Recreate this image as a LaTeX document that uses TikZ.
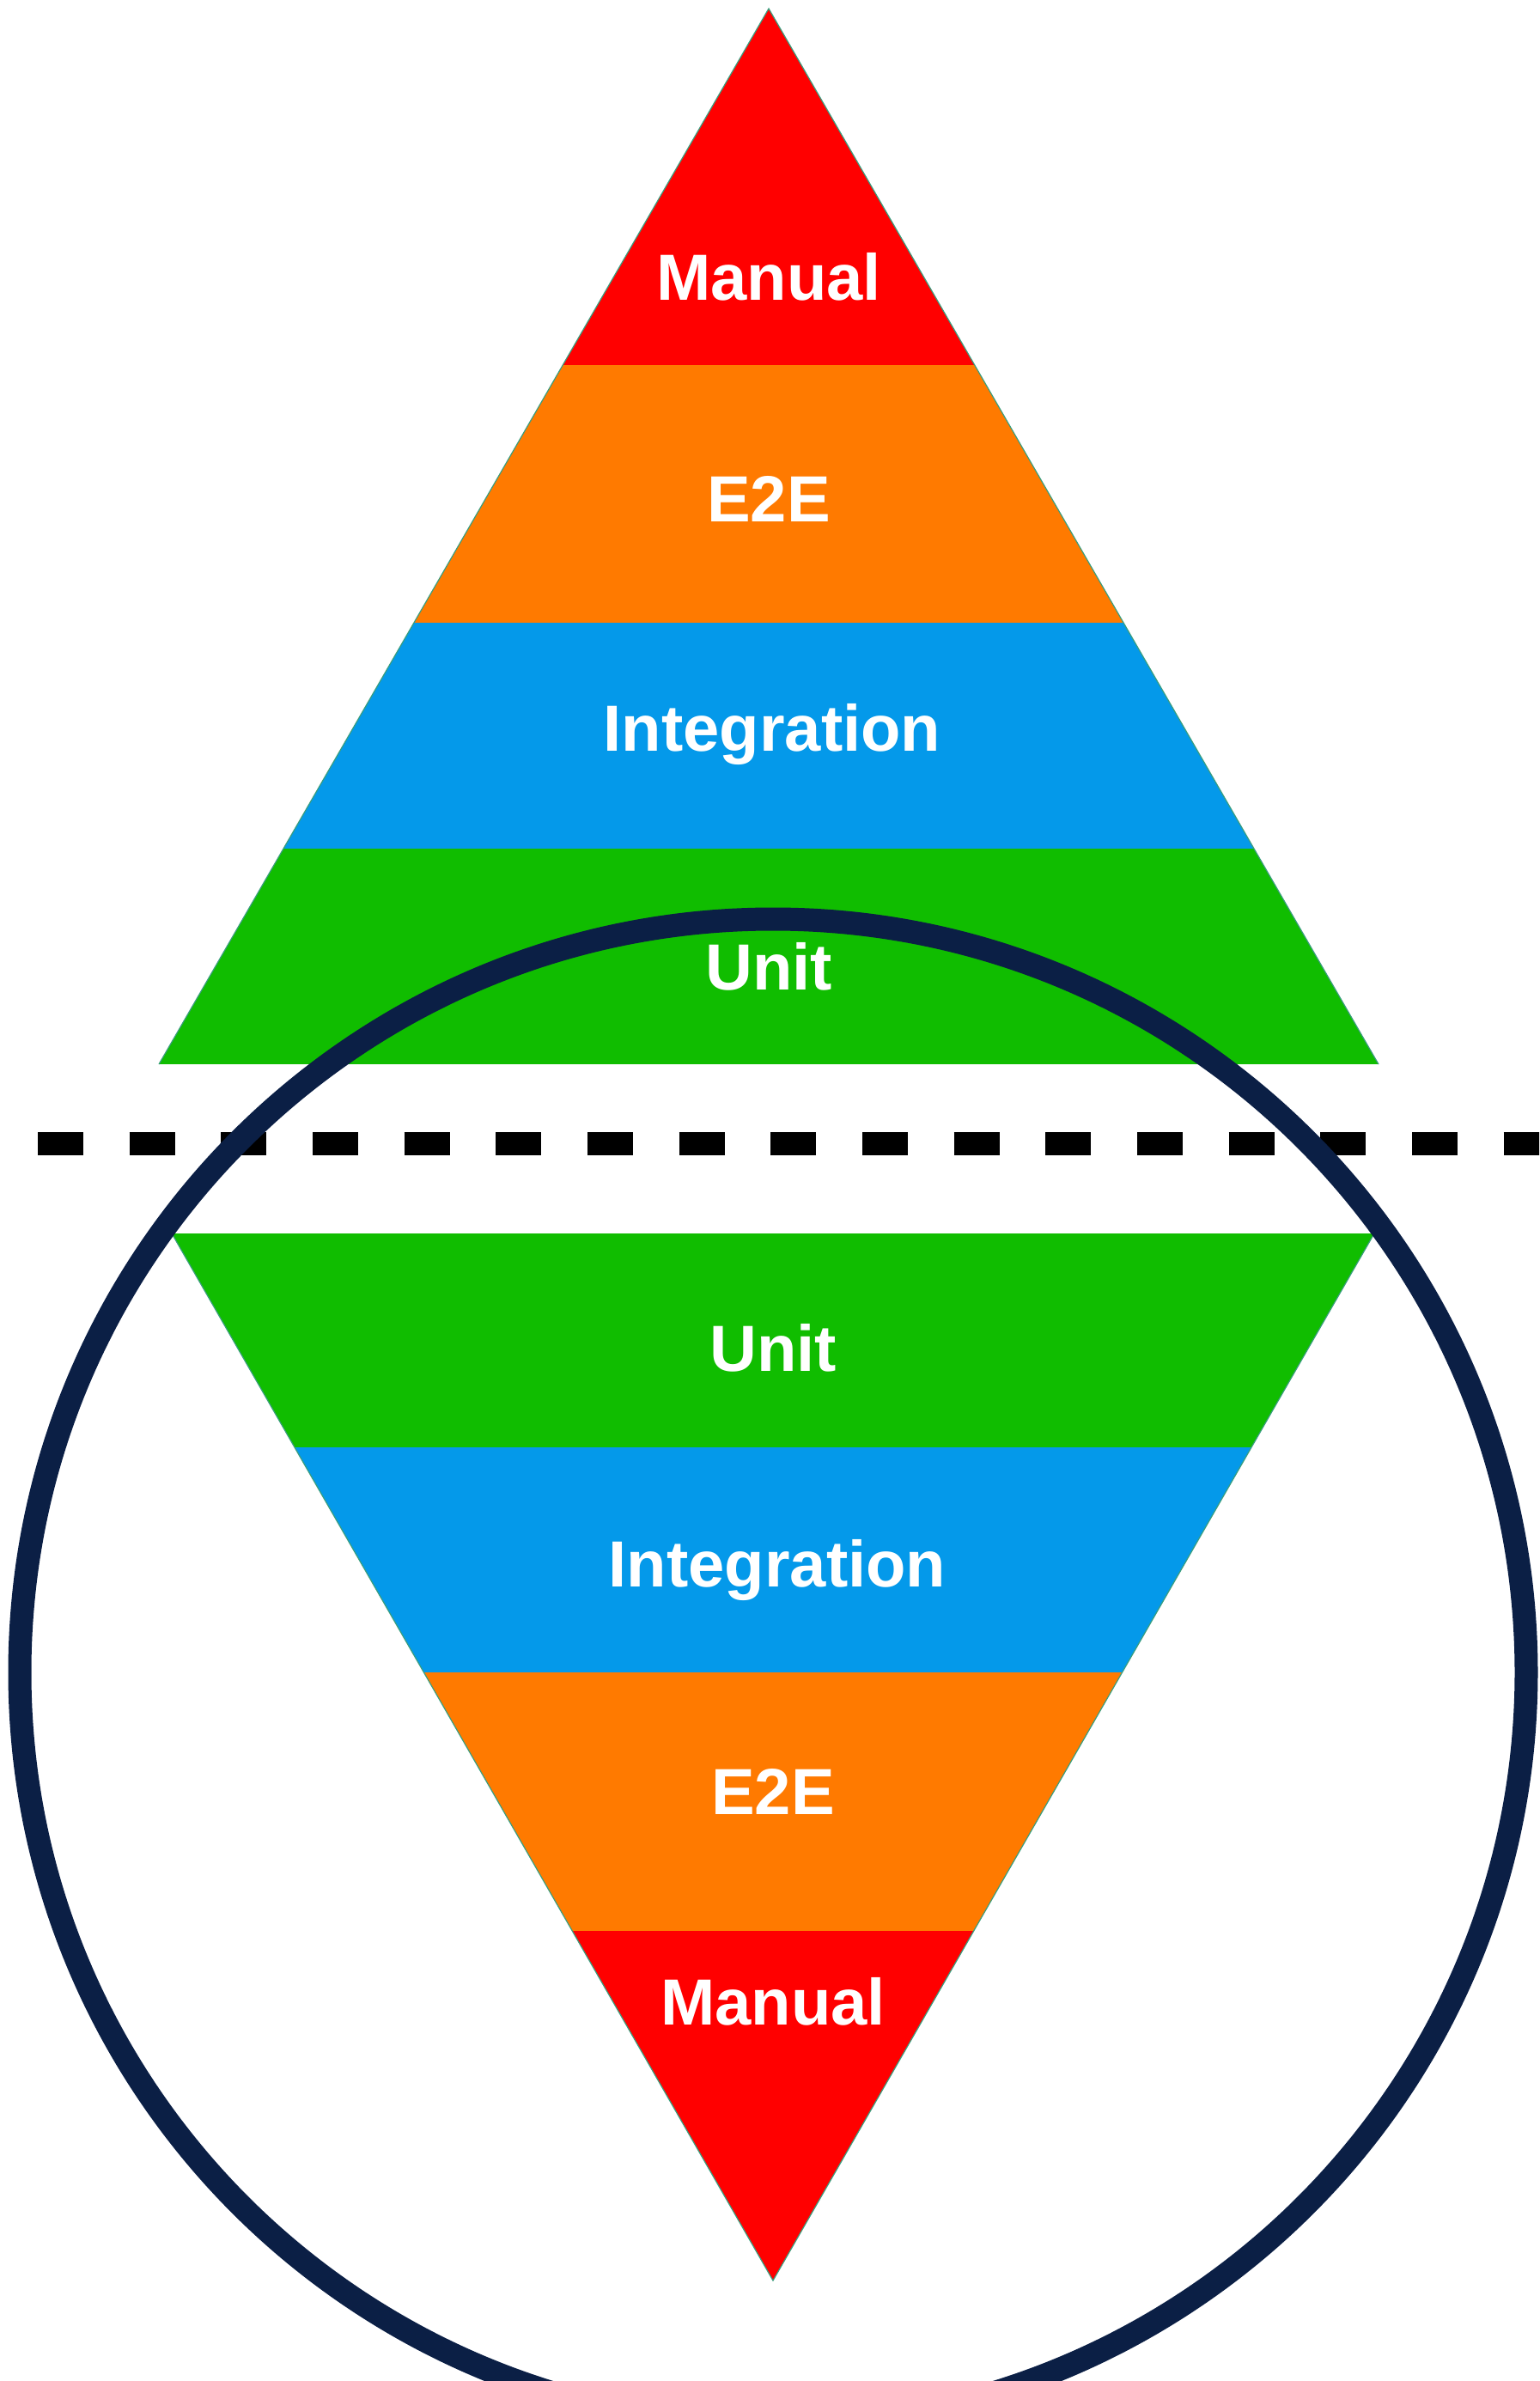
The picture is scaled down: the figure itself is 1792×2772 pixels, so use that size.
\documentclass[tikz,border=0pt]{standalone}
\usepackage{fontspec}
\setmainfont{Liberation Sans}
\definecolor{bandred}{HTML}{FF0000}
\definecolor{bandorange}{HTML}{FF7A00}
\definecolor{bandblue}{HTML}{0499EA}
\definecolor{bandgreen}{HTML}{10BD00}
\definecolor{navy}{HTML}{0B1F45}
\definecolor{edgeteal}{HTML}{3A9E7E}
\tikzset{
  label/.style={text=white, font=\fontsize{76}{90}\selectfont\bfseries, inner sep=0pt, anchor=base},
  edge/.style={draw=edgeteal, line width=1.2pt},
  divider/.style={draw=black, line width=27pt, dash pattern=on 53pt off 53.67pt},
  ring/.style={draw=navy, line width=27pt}
}
\begin{document}
\begin{tikzpicture}[x=1pt,y=-1pt]
\useasboundingbox (0,0) rectangle (1792,2772);
\clip (0,0) rectangle (1792,2772);
% top pyramid
\begin{scope}
  \clip (895,10) -- (185,1239) -- (1605,1239) -- cycle;
  \fill[bandred] (0,0) rectangle (1792,425);
  \fill[bandorange] (0,425) rectangle (1792,725);
  \fill[bandblue] (0,725) rectangle (1792,988);
  \fill[bandgreen] (0,988) rectangle (1792,1239);
\end{scope}
\draw[edge] (185,1239) -- (895,10) -- (1605,1239);
% bottom inverted pyramid
\begin{scope}
  \clip (200,1436) -- (1600,1436) -- (900,2655) -- cycle;
  \fill[bandgreen] (0,1436) rectangle (1792,1685);
  \fill[bandblue] (0,1685) rectangle (1792,1947);
  \fill[bandorange] (0,1947) rectangle (1792,2248);
  \fill[bandred] (0,2248) rectangle (1792,2700);
\end{scope}
\draw[edge] (200,1436) -- (900,2655) -- (1600,1436);
% labels
\node[label] (tmanual) at (895,349) {Manual};
\node[label] (te2e) at (895,607) {E2E};
\node[label] (tint) at (899,874) {Integration};
\node[label] (tunit) at (895,1152) {Unit};
\node[label] (bunit) at (900,1596) {Unit};
\node[label] (bint) at (905,1847) {Integration};
\node[label] (be2e) at (900,2112) {E2E};
\node[label] (bmanual) at (900,2357) {Manual};
% dashed divider
\coordinate (dstart) at (44,1331);
\coordinate (dend) at (1800,1331);
\draw[divider] (dstart) -- (dend);
% circle
\coordinate (cc) at (900,1947);
\draw[ring] (cc) circle[radius=877pt];
\end{tikzpicture}
\end{document}
